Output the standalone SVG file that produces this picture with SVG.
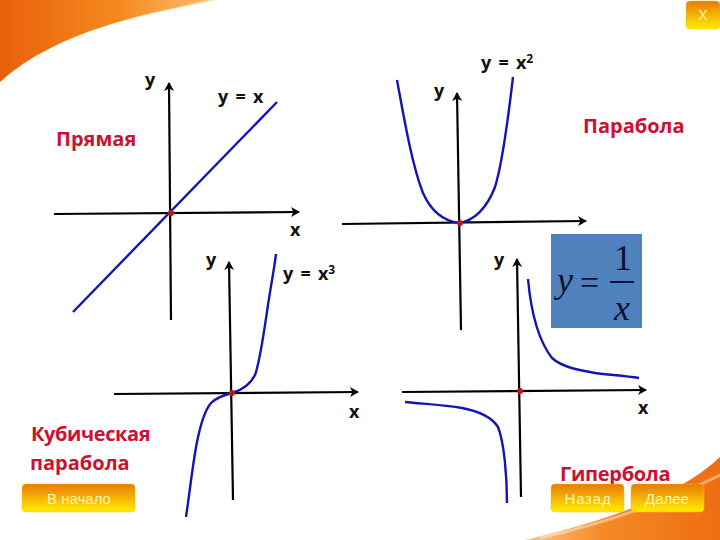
<svg xmlns="http://www.w3.org/2000/svg" width="720" height="540" viewBox="0 0 720 540">
<style>
.ax{fill:none;stroke:#000;stroke-width:2.2;marker-end:url(#ah)}
.cv{fill:none;stroke:#1414b4;stroke-width:2.4}
.lb{font:bold 18px "Open Sans","Liberation Sans",sans-serif;fill:#111;word-spacing:2.5px}
.ti{font:bold 20px "Open Sans","Liberation Sans",sans-serif;fill:#cc1030}
.bt{stroke:#f0c000;stroke-width:.5;fill:url(#bg)}
.bl{font:15px "Liberation Sans",Arial,sans-serif;fill:#fff5b0;text-anchor:middle}
.dot{fill:#c01818}
</style>
<defs>
<marker id="ah" markerWidth="12" markerHeight="12" refX="9" refY="6" orient="auto" markerUnits="userSpaceOnUse"><path d="M1 1L10 6L1 11L3.5 6Z" fill="#000"/></marker>
<linearGradient id="bg" x1="0" y1="0" x2="0" y2="1"><stop offset="0" stop-color="#e87a08"/><stop offset="1" stop-color="#ffee00"/></linearGradient>
<linearGradient id="sw" x1="0" y1="0" x2="1" y2="0"><stop offset="0" stop-color="#e8600c"/><stop offset=".55" stop-color="#f58a1e"/><stop offset="1" stop-color="#fbc070"/></linearGradient>
<linearGradient id="sw2" x1="0" y1="0" x2="1" y2="0"><stop offset="0" stop-color="#fbc58a"/><stop offset=".4" stop-color="#f58a25"/><stop offset="1" stop-color="#ee6d12"/></linearGradient>
</defs>
<rect width="720" height="540" fill="#fff"/>
<g id="background">
<path d="M0 0H216C150 14 60 28 0 82Z" fill="url(#sw)"/>
<path d="M60 46C100 25 150 14 216 0" fill="none" stroke="#fff" stroke-opacity=".45" stroke-width="3"/>
<path d="M720 457C680 495 610 520 525 540H720Z" fill="url(#sw2)"/>
<path d="M540 538C610 522 670 500 720 475" fill="none" stroke="#fff" stroke-opacity=".4" stroke-width="3"/>
</g>
<g id="connectors">
<path class="ax" d="M171 320L169 83"/>
<path class="ax" d="M54 214L299 212"/>
<path class="cv" d="M73 312L277 102"/>
<path class="ax" d="M461 330L457 93"/>
<path class="ax" d="M342 224L586 221"/>
<path class="cv" d="M397 80C404 118 412 165 423 193C431 211 444 221 459 223C474 221 487 208 495 187C502 165 508 120 513 77"/>
<path class="ax" d="M233 500L229 262"/>
<path class="ax" d="M114 394L358 392"/>
<path class="cv" d="M186 517C190 490 193 462 197 442C201 422 205 410 211 403C217 397 224 395 232 393C242 390 250 385 255 375C260 362 265 325 268 305C271 285 274 270 276 254"/>
<path class="ax" d="M521 497L517 259"/>
<path class="ax" d="M402 392L646 390"/>
<path class="cv" d="M528 279C531 312 538 340 552 358C562 367 578 370 595 373C612 375 625 376 639 378"/>
<path class="cv" d="M405 402C425 404 445 405 462 408C478 411 491 416 498 427C504 442 507 475 507 503"/>
</g>
<g id="node-line">
<circle class="dot" cx="171" cy="213" r="3"/>
<text class="lb" x="145" y="86">y</text>
<text class="lb" x="218" y="103">y = x</text>
<text class="ti" x="56" y="146">Прямая</text>
<text class="lb" x="290" y="236">x</text>
</g>
<g id="node-parabola">
<circle class="dot" cx="460" cy="223" r="3"/>
<text class="lb" x="434" y="97">y</text>
<text class="lb" x="481" y="69">y = x<tspan font-size="12" dy="-6">2</tspan></text>
<text class="ti" x="583" y="133">Парабола</text>
</g>
<g id="node-cubic">
<circle class="dot" cx="232" cy="393" r="3"/>
<text class="lb" x="206" y="266">y</text>
<text class="lb" x="283" y="280">y = x<tspan font-size="12" dy="-6">3</tspan></text>
<text class="lb" x="349" y="418">x</text>
<text class="ti" x="31" y="441" letter-spacing="-.4">Кубическая</text>
<text class="ti" x="30" y="470">парабола</text>
</g>
<g id="node-hyperbola">
<circle class="dot" cx="520" cy="391" r="3"/>
<text class="lb" x="494" y="266">y</text>
<text class="lb" x="638" y="414">x</text>
<text class="ti" x="560" y="481" letter-spacing="-.3">Гипербола</text>
</g>
<g id="node-formula">
<rect x="551" y="234" width="91" height="94" fill="#4f81bd"/>
<g font-family="Liberation Serif,serif" fill="#0a1430">
<text x="557" y="292" font-size="36" font-style="italic">y</text>
<text x="580" y="294" font-size="34">=</text>
<text x="614" y="270" font-size="36">1</text>
<text x="614" y="320" font-size="36" font-style="italic">x</text>
</g>
<rect x="610" y="281" width="24" height="2" fill="#0a1430"/>
</g>
<g id="btn-close"><rect class="bt" x="686" y="1" width="34" height="28" rx="4"/><text class="bl" x="703" y="20" font-weight="bold" style="font-size:14px">X</text></g>
<g id="btn-start"><rect class="bt" x="22" y="484" width="113" height="28" rx="4"/><text class="bl" x="79" y="504">В начало</text></g>
<g id="btn-back"><rect class="bt" x="551" y="484" width="73" height="28" rx="4"/><text class="bl" x="588" y="504" letter-spacing=".8">Назад</text></g>
<g id="btn-next"><rect class="bt" x="631" y="484" width="73" height="28" rx="4"/><text class="bl" x="667" y="504">Далее</text></g>
</svg>
